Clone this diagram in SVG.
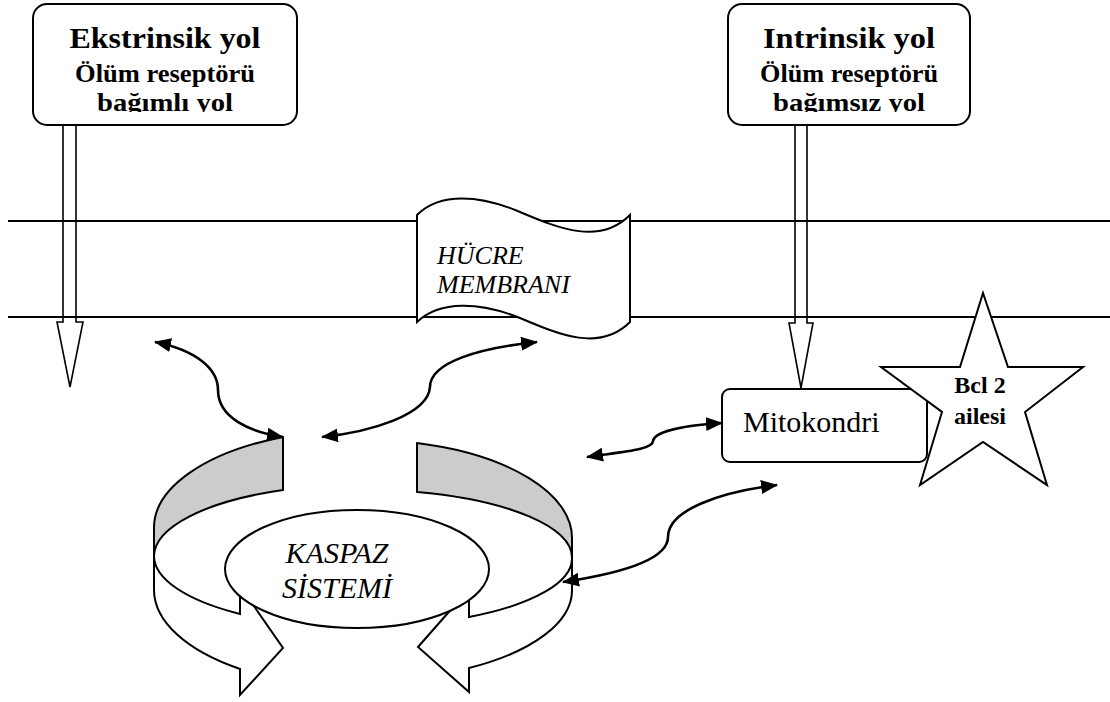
<svg xmlns="http://www.w3.org/2000/svg" width="1110" height="702" viewBox="0 0 1110 702">
<style>
.ln{stroke:#000;stroke-width:2;fill:none}
.box{fill:#fff;stroke:#000;stroke-width:2}
.blk{fill:#fff;stroke:#000;stroke-width:1.6}
.gray{fill:#cccccc;stroke:#000;stroke-width:2;stroke-linejoin:round}
.wht{fill:#fff;stroke:#000;stroke-width:2;stroke-linejoin:miter}
.con{fill:none;stroke:#000;stroke-width:2.6;marker-start:url(#ah);marker-end:url(#ah)}
.tb{font-family:"Liberation Serif","Times New Roman",serif;font-weight:bold;fill:#000}
.ti{font-family:"Liberation Serif","Times New Roman",serif;font-style:italic;fill:#000}
.tr{font-family:"Liberation Serif","Times New Roman",serif;fill:#000}
</style>
<defs>
<marker id="ah" markerUnits="userSpaceOnUse" markerWidth="17" markerHeight="14" viewBox="0 0 17 14" refX="16" refY="7" orient="auto-start-reverse">
<path d="M0,0 L17,7 L0,14 Z" fill="#000"/>
</marker>
<clipPath id="clipL"><rect x="33" y="4" width="264" height="108"/></clipPath>
<clipPath id="clipR"><rect x="728" y="4" width="242" height="108"/></clipPath>
</defs>
<rect width="1110" height="702" fill="#fff"/>

<g id="ekstrinsik-arrow">
<path class="blk" d="M63,125 L63,322 L57,322 L70,387 L83,322 L76,322 L76,125"/>
</g>
<g id="intrinsik-arrow">
<path class="blk" d="M795,125 L795,323 L789,323 L801,388 L813,323 L807,323 L807,125"/>
</g>

<g id="membrane-lines">
<line class="ln" x1="8" y1="221" x2="1110" y2="221"/>
<line class="ln" x1="8" y1="317" x2="1110" y2="317"/>
</g>

<g id="ekstrinsik-yol">
<rect class="box" x="33" y="4" width="264" height="121" rx="14"/>
<g clip-path="url(#clipL)" text-anchor="middle">
<text class="tb" x="165" y="48" font-size="30" textLength="191" lengthAdjust="spacingAndGlyphs">Ekstrinsik yol</text>
<text class="tb" x="165" y="82" font-size="25" textLength="180" lengthAdjust="spacingAndGlyphs">Ölüm reseptörü</text>
<text class="tb" x="165" y="111" font-size="25" textLength="136" lengthAdjust="spacingAndGlyphs">bağımlı yol</text>
</g>
</g>

<g id="intrinsik-yol">
<rect class="box" x="728" y="4" width="242" height="121" rx="14"/>
<g clip-path="url(#clipR)" text-anchor="middle">
<text class="tb" x="849" y="48" font-size="30" textLength="172" lengthAdjust="spacingAndGlyphs">Intrinsik yol</text>
<text class="tb" x="849" y="82" font-size="25" textLength="178" lengthAdjust="spacingAndGlyphs">Ölüm reseptörü</text>
<text class="tb" x="849" y="111" font-size="25" textLength="152" lengthAdjust="spacingAndGlyphs">bağımsız yol</text>
</g>
</g>

<g id="hucre-membrani">
<path class="box" d="M417,215 C440,192 480,195 520,212 S600,245 630,215 L630,322 C600,352 560,335 520,318 C480,302 440,300 417,322 Z"/>
<text class="ti" x="437" y="264" font-size="26">HÜCRE</text>
<text class="ti" x="437" y="293" font-size="26">MEMBRANI</text>
</g>

<g id="mitokondri">
<rect class="box" x="722" y="389" width="205" height="73" rx="8"/>
<text class="tr" x="743" y="432" font-size="30">Mitokondri</text>
</g>

<g id="bcl2-ailesi">
<polygon class="box" points="983,293 1008,367 1083,367 1025,412 1047,485 983,442 920,485 942,412 881,367 960,367"/>
<text class="tb" x="980" y="393" font-size="24" text-anchor="middle">Bcl 2</text>
<text class="tb" x="980" y="424" font-size="24" text-anchor="middle">ailesi</text>
</g>

<g id="kaspaz-sistemi">
<path class="gray" d="M283,437 A209,98 0 0 0 154,527 L154,556 A209,72 0 0 1 283,490 Z"/>
<path class="wht" d="M154,556 L154,590 A209,98 0 0 0 240,669 L240,695 L283,648 L240,586 L240,614 A209,72 0 0 1 154,556 Z"/>
<path class="gray" d="M417,443 A209,98 0 0 1 572,538 L572,558 A209,68 0 0 0 417,492 Z"/>
<path class="wht" d="M572,558 L572,590 A209,90 0 0 1 469,668 L469,692 L418,647 L469,589 L469,617 A209,68 0 0 0 572,558 Z"/>
<ellipse class="box" cx="357" cy="569" rx="132" ry="59"/>
<text class="ti" x="337" y="563" font-size="30" text-anchor="middle">KASPAZ</text>
<text class="ti" x="337" y="598" font-size="30" text-anchor="middle">SİSTEMİ</text>
</g>

<g id="connectors">
<path class="con" d="M155,342 C195,350 218,368 218,390 C218,418 250,432 283,437"/>
<path class="con" d="M537,342 C480,348 430,362 430,387 C428,415 370,432 322,437"/>
<path class="con" d="M587,457 C620,452 653,450 653,441 C655,430 690,425 722,423"/>
<path class="con" d="M563,582 C610,575 668,562 668,537 C668,510 720,492 777,485"/>
</g>
</svg>
